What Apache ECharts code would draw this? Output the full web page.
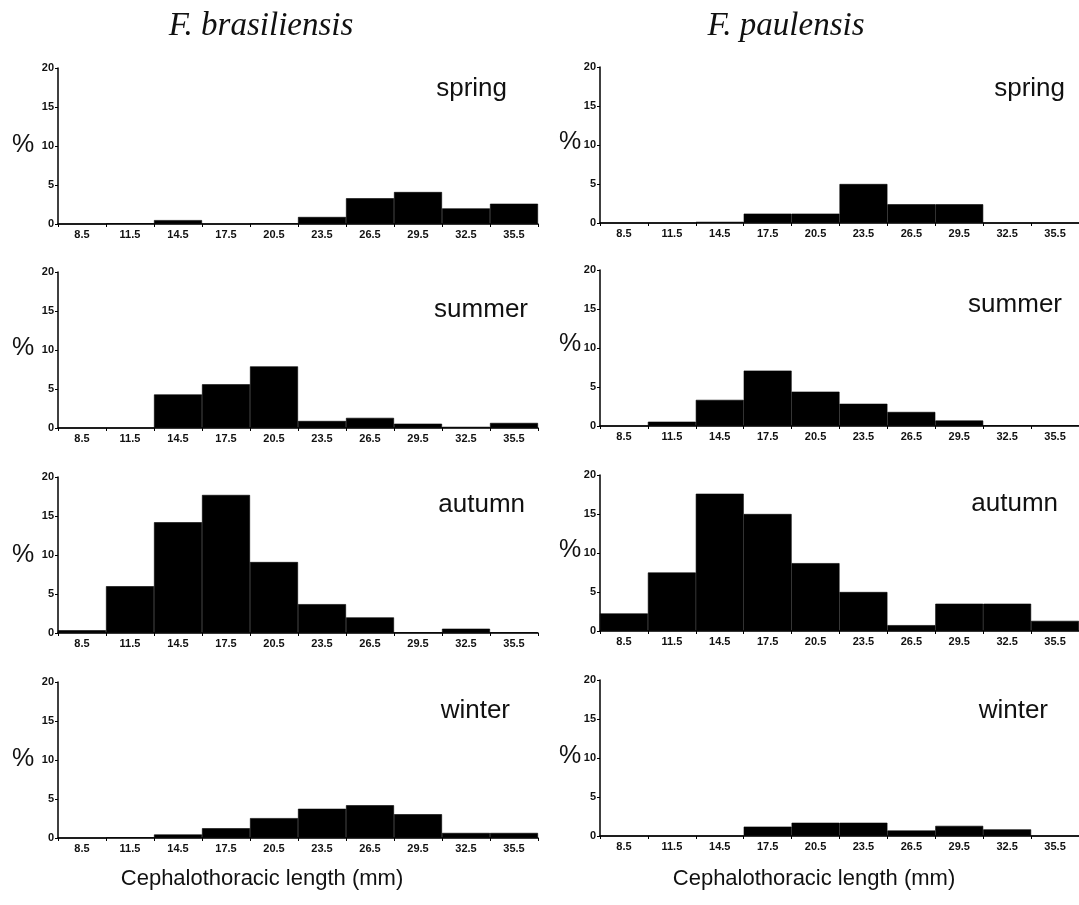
<!DOCTYPE html>
<html>
<head>
<meta charset="utf-8">
<script src="https://cdn.jsdelivr.net/npm/echarts@6/dist/echarts.min.js"></script>
<style>
  html, body { margin: 0; padding: 0; background: #fff; }
  #chart { width: 1079px; height: 905px; }
</style>
</head>
<body>
<div id="chart"></div>
<script>
// bin centres (mm)
const bins = ['8.5', '11.5', '14.5', '17.5', '20.5', '23.5', '26.5', '29.5', '32.5', '35.5'];
const seasons = ['spring', 'summer', 'autumn', 'winter'];
const species = ['F. brasiliensis', 'F. paulensis'];

// F. brasiliensis, % per bin
const brasSpring = [0, 0.1, 0.5, 0, 0.1, 0.9, 3.3, 4.1, 2.0, 2.6];
const brasSummer = [0, 0, 4.3, 5.6, 7.9, 0.9, 1.3, 0.55, 0.15, 0.65];
const brasAutumn = [0.35, 6.0, 14.2, 17.7, 9.1, 3.7, 2.0, 0.1, 0.55, 0.1];
const brasWinter = [0, 0.1, 0.45, 1.25, 2.55, 3.75, 4.2, 3.05, 0.65, 0.65];

// F. paulensis, % per bin
const paulSpring = [0, 0, 0.15, 1.2, 1.2, 5.0, 2.4, 2.4, 0, 0];
const paulSummer = [0, 0.55, 3.35, 7.1, 4.4, 2.85, 1.8, 0.7, 0.1, 0.1];
const paulAutumn = [2.25, 7.5, 17.6, 15.0, 8.7, 5.0, 0.75, 3.5, 3.5, 1.3];
const paulWinter = [0, 0, 0, 1.2, 1.7, 1.7, 0.7, 1.3, 0.85, 0];

const columns = [
  [brasSpring, brasSummer, brasAutumn, brasWinter],
  [paulSpring, paulSummer, paulAutumn, paulWinter]
];

const gridLeft = [58, 600];
const gridTops = [[68, 272, 477, 682], [67, 270, 475, 680]];
// right edge / middle of the season labels
const labelPos = [
  [[507, 89], [528, 310], [525, 505], [510, 711]],
  [[1065, 89], [1062, 305], [1058, 504], [1048, 711]]
];
const pctPos = [[23, [145, 348, 555, 759]], [570, [142, 344, 550, 756]]];

const myChart = echarts.init(document.getElementById('chart'));

let grids = [], xAxes = [], yAxes = [], series = [], graphics = [];

columns.forEach((col, c) => {
  col.forEach((data, r) => {
    const i = grids.length;
    grids.push({ left: gridLeft[c], top: gridTops[c][r], width: 480, height: 156 });
    xAxes.push({
      type: 'category',
      gridIndex: i,
      data: bins,
      axisLine: { lineStyle: { color: '#000', width: 1.5 } },
      axisTick: { show: true, length: 3, lineStyle: { color: '#000' } },
      axisLabel: { color: '#111', fontSize: 11, fontWeight: 'bold', fontFamily: 'Arial, Liberation Sans', margin: 5 }
    });
    yAxes.push({
      type: 'value',
      gridIndex: i,
      min: 0,
      max: 20,
      interval: 5,
      splitLine: { show: false },
      axisLine: { show: true, lineStyle: { color: '#000', width: 1.5 } },
      axisTick: { show: true, length: 3, lineStyle: { color: '#000' } },
      axisLabel: { color: '#111', fontSize: 11, fontWeight: 'bold', fontFamily: 'Arial, Liberation Sans', margin: 4 }
    });
    series.push({
      type: 'bar',
      xAxisIndex: i,
      yAxisIndex: i,
      data: data,
      barCategoryGap: 0,
      barGap: 0,
      // thin border of the same colour closes the hairline gaps between bins
      itemStyle: { color: '#000', borderColor: '#000', borderWidth: 0.6 },
      silent: true
    });
    graphics.push({
      type: 'text',
      x: labelPos[c][r][0],
      y: labelPos[c][r][1],
      style: {
        text: seasons[r],
        fill: '#111',
        font: '26px Arial, "Liberation Sans"',
        textAlign: 'right',
        textVerticalAlign: 'middle'
      }
    });
    graphics.push({
      type: 'text',
      x: pctPos[c][0],
      y: pctPos[c][1][r],
      style: {
        text: '%',
        fill: '#111',
        font: '25px Arial, "Liberation Sans"',
        textAlign: 'center',
        textVerticalAlign: 'middle'
      }
    });
  });
});

// column titles and axis names
graphics.push(
  { type: 'text', x: 261, y: 26, style: { text: species[0], fill: '#111', font: 'italic 33px "Liberation Serif", "DejaVu Serif"', textAlign: 'center', textVerticalAlign: 'middle' } },
  { type: 'text', x: 786, y: 26, style: { text: species[1], fill: '#111', font: 'italic 33px "Liberation Serif", "DejaVu Serif"', textAlign: 'center', textVerticalAlign: 'middle' } },
  { type: 'text', x: 262, y: 879, style: { text: 'Cephalothoracic length (mm)', fill: '#111', font: '22px Arial, "Liberation Sans"', textAlign: 'center', textVerticalAlign: 'middle' } },
  { type: 'text', x: 814, y: 879, style: { text: 'Cephalothoracic length (mm)', fill: '#111', font: '22px Arial, "Liberation Sans"', textAlign: 'center', textVerticalAlign: 'middle' } }
);

myChart.setOption({
  animation: false,
  backgroundColor: '#fff',
  grid: grids,
  xAxis: xAxes,
  yAxis: yAxes,
  series: series,
  graphic: graphics
});
</script>
</body>
</html>
